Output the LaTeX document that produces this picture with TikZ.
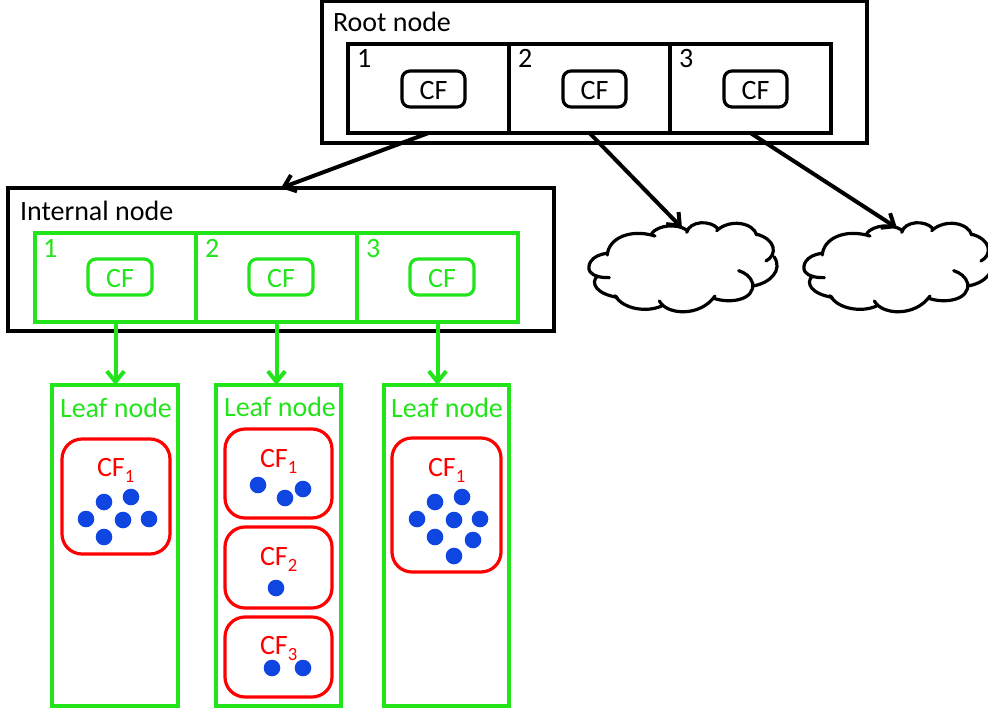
\documentclass[tikz,border=0pt]{standalone}
\usepackage{fontspec}
\setmainfont{Carlito}
\usetikzlibrary{arrows.meta,calc}
\definecolor{gr}{HTML}{22E41A}
\definecolor{rd}{HTML}{FF0000}
\definecolor{bl}{HTML}{0F45E0}
\newcommand{\boxat}[6]{% style, name, x1, y1, x2, y2
  \node[#1,minimum width={(#5-#3)*0.75pt},minimum height={(#6-#4)*0.75pt}] (#2) at ({(#3+#5)/2},{(#4+#6)/2}) {};}
\newcommand{\cfsub}[1]{CF\raisebox{-0.5ex}{\fontsize{14}{14}\selectfont #1}}
\newcommand{\cloudshape}{%
 \draw[cloudline] (225,108) .. controls (150,85) and (85,115) .. (82,165);
 \draw[cloudline] (82,160) .. controls (30,165) and (20,200) .. (30,215) .. controls (40,230) and (65,233) .. (88,233);
 \draw[cloudline] (52,228) .. controls (30,250) and (50,282) .. (112,292);
 \draw[cloudline] (105,287) .. controls (130,328) and (200,338) .. (245,318);
 \draw[cloudline] (238,303) .. controls (260,345) and (360,352) .. (405,288);
 \draw[cloudline] (402,295) .. controls (450,312) and (525,300) .. (518,250) .. controls (512,230) and (495,218) .. (476,212);
 \draw[cloudline] (518,258) .. controls (570,250) and (610,210) .. (582,170);
 \draw[cloudline] (558,183) .. controls (592,165) and (590,118) .. (528,102);
 \draw[cloudline] (530,105) .. controls (520,68) and (450,55) .. (410,92);
 \draw[cloudline] (413,85) .. controls (390,60) and (330,62) .. (320,97);
 \draw[cloudline] (320,90) .. controls (290,70) and (235,75) .. (215,100);
}
\tikzset{
 x=0.75pt,y=-0.75pt,
 base/.style={draw,inner sep=0pt,outer sep=0pt,line width=2.4pt,line join=miter,fill=none},
 blackbox/.style={base,draw=black},
 greenbox/.style={base,draw=gr},
 cfblack/.style={base,draw=black,rounded corners=6pt},
 cfgreen/.style={base,draw=gr,rounded corners=6pt},
 redbox/.style={base,draw=rd,rounded corners=15pt},
 txt/.style={inner sep=0pt,outer sep=0pt,anchor=base west,font=\fontsize{21}{24}\selectfont},
 txtc/.style={txt,anchor=base},
 barrow/.style={line width=3pt,draw=black,-{Straight Barb[length=8pt,width=13pt]}},
 garrow/.style={line width=3pt,draw=gr,-{Straight Barb[length=8pt,width=13pt]}},
 cloudline/.style={line width=2.4pt,line cap=round,black},
 dot/.style={fill=bl,draw=none},
}
\begin{document}
\begin{tikzpicture}
\useasboundingbox (0,0) rectangle (988,710);
% root
\boxat{blackbox}{root}{322}{1}{867}{143}
\boxat{blackbox}{r1}{348}{44}{509}{133}
\boxat{blackbox}{r2}{509}{44}{670}{133}
\boxat{blackbox}{r3}{670}{44}{831}{133}
\boxat{cfblack}{rc1}{402}{71}{465}{107}
\boxat{cfblack}{rc2}{563}{71}{626}{107}
\boxat{cfblack}{rc3}{724}{71}{787}{107}
\node[txt] (rootlabel) at (333,32) {Root node};
\node[txt] (rn1) at (357,68) {1};
\node[txt] (rn2) at (518,68) {2};
\node[txt] (rn3) at (679,68) {3};
\node[txtc] (rt1) at (433.5,99) {CF};
\node[txtc] (rt2) at (594.5,99) {CF};
\node[txtc] (rt3) at (755.5,99) {CF};
% internal
\boxat{blackbox}{internal}{8}{188}{554}{331}
\boxat{greenbox}{i1}{35}{233}{196}{322}
\boxat{greenbox}{i2}{196}{233}{357}{322}
\boxat{greenbox}{i3}{357}{233}{518}{322}
\boxat{cfgreen}{ic1}{88}{259}{152}{295}
\boxat{cfgreen}{ic2}{249}{259}{313}{295}
\boxat{cfgreen}{ic3}{410}{259}{474}{295}
\node[txt] (intlabel) at (20,220) {Internal node};
\node[txt,text=gr] (in1) at (43,257) {1};
\node[txt,text=gr] (in2) at (205,257) {2};
\node[txt,text=gr] (in3) at (366,257) {3};
\node[txtc,text=gr] (it1) at (120,287) {CF};
\node[txtc,text=gr] (it2) at (281,287) {CF};
\node[txtc,text=gr] (it3) at (442,287) {CF};
% leaves
\boxat{greenbox}{leafa}{52}{385}{178}{706}
\boxat{greenbox}{leafb}{216}{385}{341}{706}
\boxat{greenbox}{leafc}{384}{385}{509}{706}
\node[txt,text=gr] (la) at (60,417) {Leaf node};
\node[txt,text=gr] (lb) at (224,416) {Leaf node};
\node[txt,text=gr] (lc) at (391,417) {Leaf node};
\boxat{redbox}{a1}{62}{439}{170}{554}
\boxat{redbox}{b1}{225}{429}{332}{518}
\boxat{redbox}{b2}{225}{527}{332}{608}
\boxat{redbox}{b3}{225}{617}{332}{697}
\boxat{redbox}{c1}{392}{438}{501}{572}
\node[txt,text=rd] (ta1) at (97,476) {\cfsub{1}};
\node[txt,text=rd] (tb1) at (260,467) {\cfsub{1}};
\node[txt,text=rd] (tb2) at (260,565) {\cfsub{2}};
\node[txt,text=rd] (tb3) at (260,654) {\cfsub{3}};
\node[txt,text=rd] (tc1) at (428,476) {\cfsub{1}};
\foreach \p in {(86,519),(104,502),(131,497),(123,520),(149,519),(104,537),
  (258,485),(285,498),(303,489),(276,588),(272,668),(303,668),
  (417,519),(435,502),(462,497),(435,537),(454,520),(480,519),(473,540),(454,556)}
  \fill[dot] \p circle (8.3);
% clouds
\begin{scope}[shift={(580,200)},scale=1/3]\cloudshape\end{scope}
\begin{scope}[shift={(795,200)},scale=1/3]\cloudshape\end{scope}
\coordinate (cloudA) at (682,228);
\coordinate (cloudB) at (897,228);
% connectors
\draw[barrow] (r1.south) -- (internal.north);
\draw[barrow] (r2.south) -- (cloudA);
\draw[barrow] (r3.south) -- (cloudB);
\draw[garrow] (i1.south) -- (i1.south |- leafa.north);
\draw[garrow] (i2.south) -- (i2.south |- leafb.north);
\draw[garrow] (i3.south) -- (i3.south |- leafc.north);
\end{tikzpicture}
\end{document}
